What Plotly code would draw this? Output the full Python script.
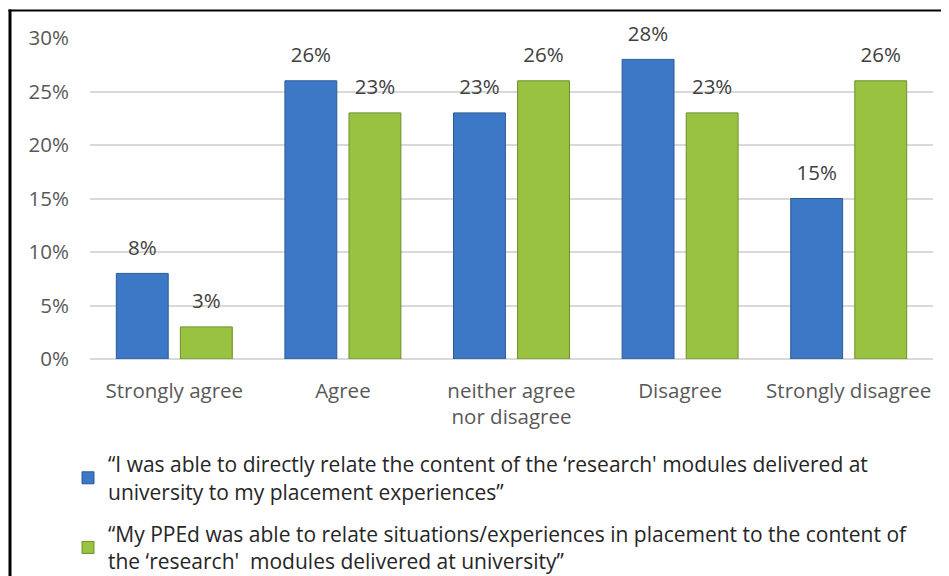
import plotly.graph_objects as go

categories = ["Strongly agree", "Agree", "neither agree<br>nor disagree", "Disagree", "Strongly disagree"]
series1_name = "“I was able to directly relate the content of the ‘research' modules delivered at<br>university to my placement experiences”"
series2_name = "“My PPEd was able to relate situations/experiences in placement to the content of<br>the ‘research'  modules delivered at university”"
series1 = [0.08, 0.26, 0.23, 0.28, 0.15]
series2 = [0.03, 0.23, 0.26, 0.23, 0.26]
ytick_vals = [0, 0.05, 0.10, 0.15, 0.20, 0.25, 0.30]

# page body has an 8px margin; figure sized to fit the window exactly
W, H = 941, 568
L, R, T, B = 82, 16, 30, 217
pw, ph = W - L - R, H - T - B

blue, blue_edge = "#3c78c6", "#2c5a96"
green, green_edge = "#98c240", "#6e8e2c"
FS = 20.5

fig = go.Figure()
for name, vals, col, edge, grp in [
    (series1_name, series1, blue, blue_edge, "a"),
    (series2_name, series2, green, green_edge, "b"),
]:
    fig.add_trace(go.Bar(
        x=categories, y=vals, name=name, offsetgroup=grp, legendgroup=grp,
        marker=dict(color=col, line=dict(color=edge, width=1)),
        hoverinfo="skip",
    ))
for vals, grp in [(series1, "a"), (series2, "b")]:
    fig.add_trace(go.Scatter(
        x=categories, y=vals, offsetgroup=grp, mode="markers+text",
        text=[f"{v*100:.0f}%" for v in vals], textposition="top center",
        textfont=dict(family="Open Sans", size=FS, color="#404040"),
        marker=dict(size=20, color="rgba(0,0,0,0)"),
        showlegend=False, hoverinfo="skip", cliponaxis=False,
    ))

def px_x(p):
    return (p - L) / pw

def px_y(p):
    return (H - B - p) / ph

fig.add_shape(type="line", xref="paper", yref="paper",
              x0=px_x(2), x1=px_x(2), y0=px_y(H + 5), y1=px_y(1.5),
              line=dict(color="black", width=3))
fig.add_shape(type="line", xref="paper", yref="paper",
              x0=px_x(0.5), x1=px_x(W + 5), y0=px_y(2.5), y1=px_y(2.5),
              line=dict(color="black", width=2))

fig.update_layout(
    width=W, height=H,
    margin=dict(l=L, r=R, t=T, b=B, autoexpand=False),
    paper_bgcolor="white", plot_bgcolor="white",
    barmode="group", scattermode="group",
    bargap=0.24, bargroupgap=0.19,
    font=dict(family="Open Sans", size=FS, color="#595959"),
    showlegend=True,
    legend=dict(
        xref="container", yref="container", x=60 / W, y=1 - 436 / H,
        xanchor="left", yanchor="top", orientation="v",
        font=dict(family="Open Sans", size=21, color="#262626"),
        tracegroupgap=12, bgcolor="rgba(0,0,0,0)",
    ),
    xaxis=dict(showgrid=False, ticks="", showline=False, ticklabelstandoff=17,
               tickfont=dict(size=FS, color="#595959")),
    yaxis=dict(range=[0, 0.30], tickvals=ytick_vals, tickformat=".0%",
               showgrid=True, gridcolor="#d9d9d9", gridwidth=1.5,
               zeroline=True, zerolinecolor="#d9d9d9", zerolinewidth=1.5,
               ticks="", showline=False, ticklabelstandoff=20,
               tickfont=dict(size=FS, color="#595959")),
)

fig.write_html("out.html")
